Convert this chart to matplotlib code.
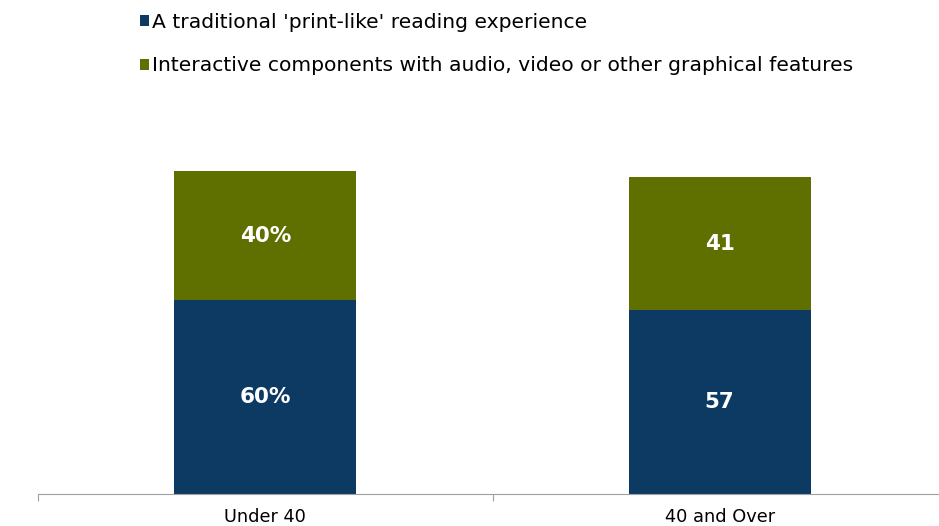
import matplotlib.pyplot as plt
import numpy as np

# data
groups = ["Under 40", "40 and Over"]
print_like = [60, 57]
interactive = [40, 41]
print_labels = ["60%", "57"]
inter_labels = ["40%", "41"]
series_names = ["A traditional 'print-like' reading experience",
                "Interactive components with audio, video or other graphical features"]

BLUE = "#0d3a63"
GREEN = "#5f7000"

plt.rcParams["font.family"] = "DejaVu Sans"

W, H = 939, 526
fig = plt.figure(figsize=(W / 100, H / 100), dpi=100)
ax = fig.add_axes([38 / W, 32 / H, (947 - 38) / W, 323 / H])

x = np.arange(len(groups))
width = 0.4
b1 = ax.bar(x, print_like, width, color=BLUE, label=series_names[0])
b2 = ax.bar(x, interactive, width, bottom=print_like, color=GREEN, label=series_names[1])

for xi, v, lab in zip(x, print_like, print_labels):
    ax.text(xi, v / 2, lab, ha="center", va="center", color="white",
            fontsize=15.5, fontweight="bold")
for xi, b, v, lab in zip(x, print_like, interactive, inter_labels):
    ax.text(xi, b + v / 2, lab, ha="center", va="center", color="white",
            fontsize=15.5, fontweight="bold")

ax.set_xlim(-0.5, 1.5)
ax.set_ylim(0, 100)
for s in ["top", "right", "left"]:
    ax.spines[s].set_visible(False)
ax.spines["bottom"].set_color("#a0a0a0")
ax.set_yticks([])
ax.set_xticks([-0.5, 0.5, 1.5])
ax.set_xticklabels([])
ax.tick_params(axis="x", direction="out", length=5, color="#a0a0a0")
ax.set_xticks(x, minor=True)
ax.set_xticklabels(groups, minor=True, fontsize=12.8)
ax.tick_params(axis="x", which="minor", length=0, pad=10)

fig.legend(handles=[b1, b2], labels=series_names, loc="upper left",
           bbox_to_anchor=(132 / W, 1 - 5 / H), frameon=False,
           fontsize=14.6, handlelength=0.45, handleheight=0.45,
           handletextpad=0.12, labelspacing=1.2, borderaxespad=0)

fig.savefig("out.png", dpi=100)
